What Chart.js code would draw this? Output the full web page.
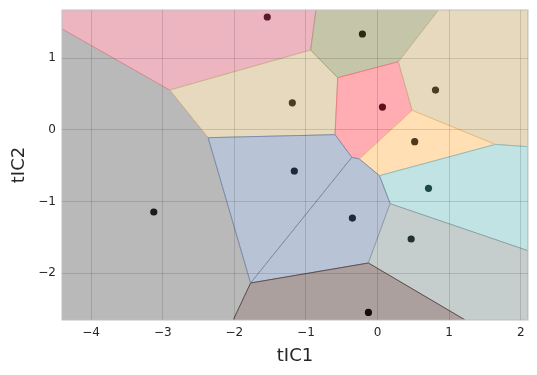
<!DOCTYPE html>
<html>
<head>
<meta charset="utf-8">
<script src="https://cdn.jsdelivr.net/npm/chart.js@4/dist/chart.umd.min.js"></script>
<style>
  html, body { margin: 0; padding: 0; background: #ffffff; }
  #wrap { width: 537px; height: 375px; }
</style>
</head>
<body>
<div id="wrap"><canvas id="c" width="537" height="375"></canvas></div>
<script>
// ---- axis ranges and ticks ----
const xRange = [-4.407, 2.102];
const yRange = [-2.654, 1.672];
const xTicks = [-4, -3, -2, -1, 0, 1, 2];
const yTicks = [-2, -1, 0, 1];

// ---- seed points (tIC1, tIC2) ----
const seedX = [-1.540, -0.211, -1.190, 0.069, 0.810, 0.519, -1.162, 0.712, -0.351, 0.470, -0.127, -3.125];
const seedY = [ 1.574,  1.337,  0.377, 0.318, 0.555, -0.166, -0.575, -0.817, -1.231, -1.524, -2.548, -1.147];
const seedColors = ['#5c1b2d', '#2b2b15', '#4b3d23', '#5e0f1c', '#4b3d23', '#4f3a1d',
                    '#1d2a3d', '#1f4948', '#1d2a3d', '#213232', '#1a0b0b', '#1c1c1c'];

// ---- Voronoi cell polygons (data units) ----
const cellPink   = [[-4.407, 1.672], [-0.859, 1.672], [-0.933, 1.113], [-2.901, 0.555], [-4.407, 1.410]];
const cellOlive  = [[-0.859, 1.672], [0.852, 1.672], [0.292, 0.950], [-0.555, 0.727], [-0.933, 1.113]];
const cellTanL   = [[-2.901, 0.555], [-0.933, 1.113], [-0.555, 0.727], [-0.593, -0.068], [-2.365, -0.110]];
const cellRed    = [[-0.555, 0.727], [0.292, 0.950], [0.484, 0.271], [-0.253, -0.407], [-0.359, -0.385], [-0.593, -0.068]];
const cellTanR   = [[0.852, 1.672], [2.102, 1.672], [2.102, -0.236], [1.645, -0.204], [0.484, 0.271], [0.292, 0.950]];
const cellOrange = [[0.484, 0.271], [1.645, -0.204], [0.027, -0.640], [-0.253, -0.407]];
const cellBlue   = [[-2.365, -0.110], [-0.593, -0.068], [-0.359, -0.385], [-1.772, -2.138]];
const cellTeal   = [[1.645, -0.204], [2.102, -0.236], [2.102, -1.687], [0.176, -1.031], [0.027, -0.640]];
const cellBlue2  = [[-0.359, -0.385], [-0.253, -0.407], [0.027, -0.640], [0.176, -1.031], [-0.127, -1.859], [-1.772, -2.138]];
const cellGGreen = [[0.176, -1.031], [2.102, -1.687], [2.102, -2.654], [1.225, -2.654], [-0.127, -1.859]];
const cellBrown  = [[-1.772, -2.138], [-0.127, -1.859], [1.225, -2.654], [-2.015, -2.654]];
const cellGray   = [[-4.407, 1.410], [-2.901, 0.555], [-2.365, -0.110], [-1.772, -2.138], [-2.015, -2.654], [-4.407, -2.654]];

const cells = [cellGray, cellPink, cellTanL, cellOlive, cellRed, cellTanR, cellOrange, cellTeal, cellBlue, cellBlue2, cellGGreen, cellBrown];
const cellFill = ['#b9b9b9', '#edb5c0', '#e6d9be', '#c5c5aa', '#ffadb3', '#e6d9be', '#ffdfb3', '#c1e3e3', '#b8c4d6', '#b8c4d6', '#c6cdcd', '#aba09e'];
const cellEdge = ['#8a8a8a', '#d9909a', '#cbb58c', '#a9a47a', '#f07c84', '#cbb58c', '#efbf7c', '#8fbcbc', '#7b8eab', '#7b8eab', '#93a3a3', '#5e4f4d'];

const polyDatasets = cells.map((cell, i) => ({
  type: 'scatter',
  data: cell.concat([cell[0]]).map(p => ({ x: p[0], y: p[1] })),
  showLine: true,
  fill: 'shape',
  backgroundColor: cellFill[i],
  borderColor: cellEdge[i],
  borderWidth: 1,
  pointRadius: 0,
  pointHoverRadius: 0,
  tension: 0,
  clip: 0,
  order: 10 + (cells.length - i)
}));

const pointDataset = {
  type: 'scatter',
  data: seedX.map((x, i) => ({ x: x, y: seedY[i] })),
  pointRadius: 3.6,
  pointBackgroundColor: seedColors,
  pointBorderWidth: 0,
  showLine: false,
  clip: 0,
  order: 0
};

const frame = {
  id: 'frame',
  afterDatasetsDraw(chart) {
    const a = chart.chartArea, ctx = chart.ctx;
    ctx.save();
    ctx.strokeStyle = '#cccccc';
    ctx.lineWidth = 1.25;
    ctx.strokeRect(a.left, a.top, a.right - a.left, a.bottom - a.top);
    ctx.restore();
  }
};

const fmt = v => (v < 0 ? '\u2212' + Math.abs(v) : String(v));
const tickFont = { family: 'DejaVu Sans', size: 12 };
const titleFont = { family: 'DejaVu Sans', size: 18 };

new Chart(document.getElementById('c'), {
  type: 'scatter',
  data: { datasets: polyDatasets.concat([pointDataset]) },
  options: {
    responsive: false,
    animation: false,
    events: [],
    layout: { padding: { top: 10, right: 9, left: 0, bottom: 0 } },
    plugins: { legend: { display: false }, tooltip: { enabled: false } },
    scales: {
      x: {
        type: 'linear',
        min: xRange[0], max: xRange[1],
        afterBuildTicks: s => { s.ticks = xTicks.map(v => ({ value: v })); },
        afterFit: s => { s.height = 55; s.paddingLeft = 0; s.paddingRight = 0; },
        grid: { color: 'rgba(0,0,0,0.13)', drawTicks: false, z: 1, lineWidth: 1 },
        border: { display: false },
        ticks: { callback: fmt, color: '#262626', font: tickFont, padding: 6, maxRotation: 0 },
        title: { display: true, text: 'tIC1', color: '#262626', font: titleFont, padding: { top: 0, bottom: 8 } }
      },
      y: {
        type: 'linear',
        min: yRange[0], max: yRange[1],
        afterBuildTicks: s => { s.ticks = yTicks.map(v => ({ value: v })); },
        afterFit: s => { s.width = 62; s.paddingTop = 0; s.paddingBottom = 0; },
        grid: { color: 'rgba(0,0,0,0.13)', drawTicks: false, z: 1, lineWidth: 1 },
        border: { display: false },
        ticks: { callback: fmt, color: '#262626', font: tickFont, padding: 6 },
        title: { display: true, text: 'tIC2', color: '#262626', font: titleFont, padding: { top: 9, bottom: 0 } }
      }
    }
  },
  plugins: [frame]
});
</script>
</body>
</html>
